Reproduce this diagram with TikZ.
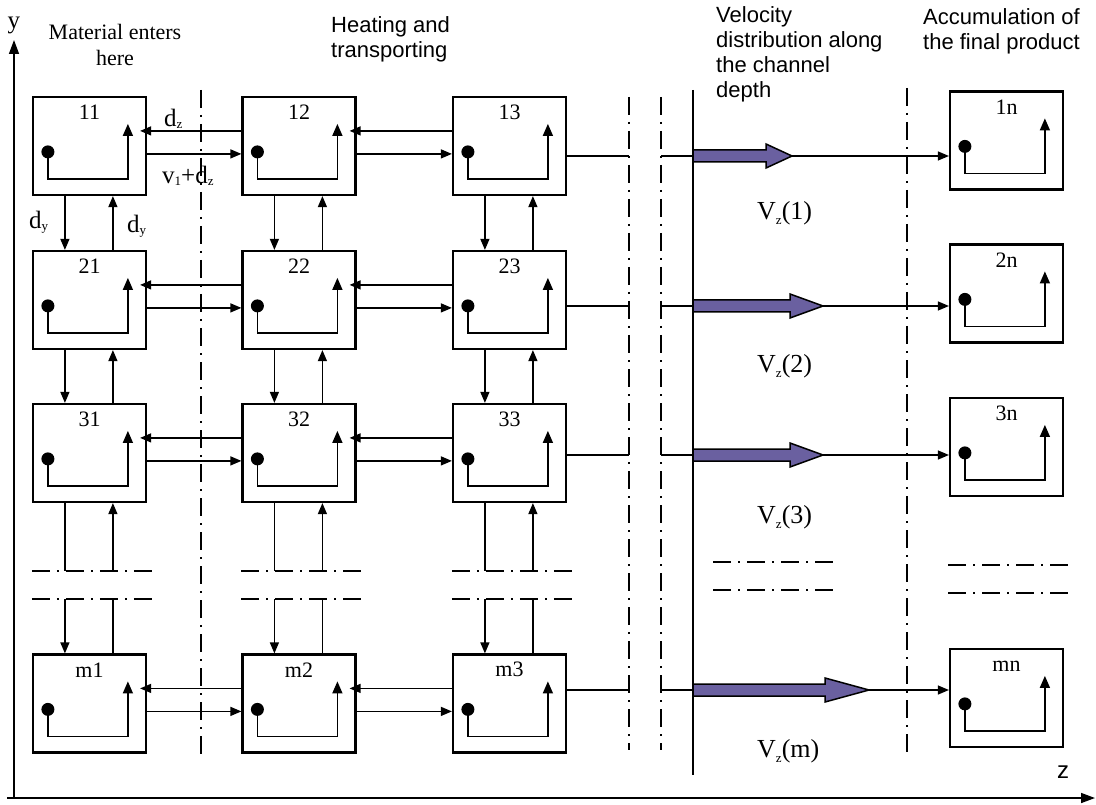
\documentclass[tikz,border=0pt]{standalone}
\usepackage{fontspec}
\setmainfont{Liberation Serif}
\setsansfont{Liberation Sans}
\usetikzlibrary{arrows.meta, calc, positioning}
\definecolor{flow}{RGB}{106,96,160}
\newcommand{\lowidx}[1]{\raisebox{-2pt}{\fontsize{13}{13}\selectfont #1}}
\newcommand{\velidx}[1]{\raisebox{-5pt}{\fontsize{13}{13}\selectfont #1}}

\begin{document}
\begin{tikzpicture}[x=1pt, y=-1pt,
    cell/.style={rectangle, draw, line width=2.2pt, minimum width=113pt, minimum height=98pt, inner sep=0pt},
    num/.style={label distance=-24pt, inner sep=0pt, font=\fontsize{22}{22}\selectfont},
    link/.style={line width=1.3pt, -{Triangle[length=11pt,width=9pt]}},
    bare/.style={line width=1.3pt},
    turn/.style={line width=1.5pt, -{Triangle[length=12pt,width=10pt]}},
    breakline/.style={line width=1.6pt, dash pattern=on 18pt off 7pt on 2pt off 7pt},
    axis/.style={line width=1.5pt, -{Triangle[length=14pt,width=10pt]}},
    head/.style={font=\fontsize{22}{25}\selectfont\sffamily, align=left, inner sep=0pt},
    sym/.style={font=\fontsize{25}{25}\selectfont, inner sep=0pt},
    vsym/.style={font=\fontsize{26}{26}\selectfont, inner sep=0pt},
    vel/.style={draw, line width=1.5pt, fill=flow}]

    \useasboundingbox (0,0) rectangle (1096,805);

    % grid of cells
    \node[cell, label={[num]90:11}] (c11) at (89.5,146) {};
    \node[cell, label={[num]90:12}, right of=c11, node distance=209.5pt] (c12) {};
    \node[cell, label={[num]90:13}, right of=c12, node distance=210.5pt] (c13) {};
    \node[cell, label={[num]90:21}, below of=c11, node distance=154pt] (c21) {};
    \node[cell, label={[num]90:22}, below of=c12, node distance=154pt] (c22) {};
    \node[cell, label={[num]90:23}, below of=c13, node distance=154pt] (c23) {};
    \node[cell, label={[num]90:31}, below of=c21, node distance=153pt] (c31) {};
    \node[cell, label={[num]90:32}, below of=c22, node distance=153pt] (c32) {};
    \node[cell, label={[num]90:33}, below of=c23, node distance=153pt] (c33) {};
    \node[cell, label={[num]90:m1}, below of=c31, node distance=250.5pt] (cm1) {};
    \node[cell, label={[num]90:m2}, below of=c32, node distance=250.5pt] (cm2) {};
    \node[cell, label={[num]90:m3}, below of=c33, node distance=250.5pt] (cm3) {};

    % final product cells
    \node[cell, label={[num]90:1n}, right of=c13, node distance=497pt, yshift=5.5pt] (e1) {};
    \node[cell, label={[num]90:2n}, below of=e1, node distance=153pt] (e2) {};
    \node[cell, label={[num]90:3n}, below of=e2, node distance=153.5pt] (e3) {};
    \node[cell, label={[num]90:mn}, below of=e3, node distance=251pt] (em) {};

    \foreach \cel in {c11,c12,c13,c21,c22,c23,c31,c32,c33,cm1,cm2,cm3,e1,e2,e3,em} {
        \fill ($(\cel.north west)+(16,56)$) circle (6.5pt);
        \draw[turn] ($(\cel.north west)+(16,56)$) |- ($(\cel.north west)+(96,83)$) -- ($(\cel.north west)+(96,28)$);
    }

    % exchange along z
    \foreach \rw in {1,2,3,m} {
        \foreach \ka/\kb in {1/2,2/3} {
            \draw[link, shorten >=-7pt] ($(c\rw\kb.north west)+(0,35)$) -- ($(c\rw\ka.north east)+(0,35)$);
            \draw[link] ($(c\rw\ka.north east)+(0,58)$) -- ($(c\rw\kb.north west)+(0,58)$);
        }
    }

    % exchange along y
    \foreach \ka/\kb in {1/2,2/3} {
        \foreach \k in {1,2,3} {
            \draw[link] ($(c\ka\k.south west)+(33,0)$) -- ($(c\kb\k.north west)+(33,0)$);
            \draw[link] ($(c\kb\k.north west)+(81,0)$) -- ($(c\ka\k.south west)+(81,0)$);
        }
    }

    % broken rows
    \coordinate (brk1) at (0,571);
    \coordinate (brk2) at (0,599);
    \foreach \k in {1,2,3} {
        \path (c3\k.south west) ++(33,0) coordinate (p\k) ++(48,0) coordinate (q\k);
        \path (cm\k.north west) ++(33,0) coordinate (r\k) ++(48,0) coordinate (s\k);
        \draw[bare] (p\k) -- (p\k |- brk1);
        \draw[link] (q\k |- brk1) -- (q\k);
        \draw[link] (r\k |- brk2) -- (r\k);
        \draw[bare] (s\k) -- (s\k |- brk2);
        \draw[breakline] (c3\k.west |- brk1) -- ++(122,0);
        \draw[breakline] (c3\k.west |- brk2) -- ++(122,0);
    }
    \draw[breakline] (713,562) -- (836,562);
    \draw[breakline] (713,590) -- (836,590);
    \draw[breakline] (948,565) -- (1072,565);
    \draw[breakline] (948,593) -- (1072,593);

    % zone borders
    \draw[breakline] (201,90) -- (201,755);
    \draw[breakline] (629,97) -- (629,750);
    \draw[breakline] (661,97) -- (661,750);
    \draw[breakline] (907,88) -- (907,755);
    \draw[line width=1.6pt] (693,90) -- (693,775);

    % outputs and velocity profile
    \foreach \rw/\yy in {1/156,2/306,3/455,m/690} {
        \coordinate (ga\rw) at (629,\yy);
        \coordinate (gb\rw) at (661,\yy);
        \coordinate (v\rw) at (693,\yy);
        \draw[bare] (c\rw3.east |- ga\rw) -- (ga\rw);
        \draw[bare] (gb\rw) -- (v\rw);
        \draw[link] (v\rw) -- (v\rw -| e\rw.west);
    }
    \foreach \yy/\hs/\tp in {156/766/792, 306/790/823, 455/790/823, 690/825/869}
        \draw[vel] (693,\yy-6) -- (\hs,\yy-6) -- (\hs,\yy-12) -- (\tp,\yy) -- (\hs,\yy+12) -- (\hs,\yy+6) -- (693,\yy+6) -- cycle;

    % axes
    \draw[axis] (14,797) -- (14,40);
    \draw[axis] (7,798) -- (1095,798);
    \node[sym] (ylab) at (14,25) {y};
    \node[font=\fontsize{24}{24}\selectfont\sffamily, inner sep=0pt] (zlab) at (1063,772) {z};

    % labels
    \node[sym, anchor=base west] (dz) at (164,127) {d\lowidx{z}};
    \node[sym, anchor=base west] (vdz) at (162,184) {v\lowidx{1}+d\lowidx{z}};
    \node[sym, anchor=base west] (dyl) at (29,229) {d\lowidx{y}};
    \node[sym, anchor=base west] (dyr) at (127,233) {d\lowidx{y}};
    \node[vsym, anchor=base west] (vz1) at (757,220) {V\velidx{z}(1)};
    \node[vsym, anchor=base west] (vz2) at (757,373) {V\velidx{z}(2)};
    \node[vsym, anchor=base west] (vz3) at (757,523) {V\velidx{z}(3)};
    \node[vsym, anchor=base west] (vzm) at (757,757) {V\velidx{z}(m)};

    \node[anchor=north, align=center, inner sep=0pt, font=\fontsize{22}{26}\selectfont] (enter) at (115,24) {Material enters\\here};
    \node[head, anchor=north west] (heat) at (331,16) {Heating and\\transporting};
    \node[head, anchor=north west] (velo) at (716,6) {Velocity\\distribution along\\the channel\\depth};
    \node[head, anchor=north west] (accu) at (923,8) {Accumulation of\\the final product};
\end{tikzpicture}
\end{document}
